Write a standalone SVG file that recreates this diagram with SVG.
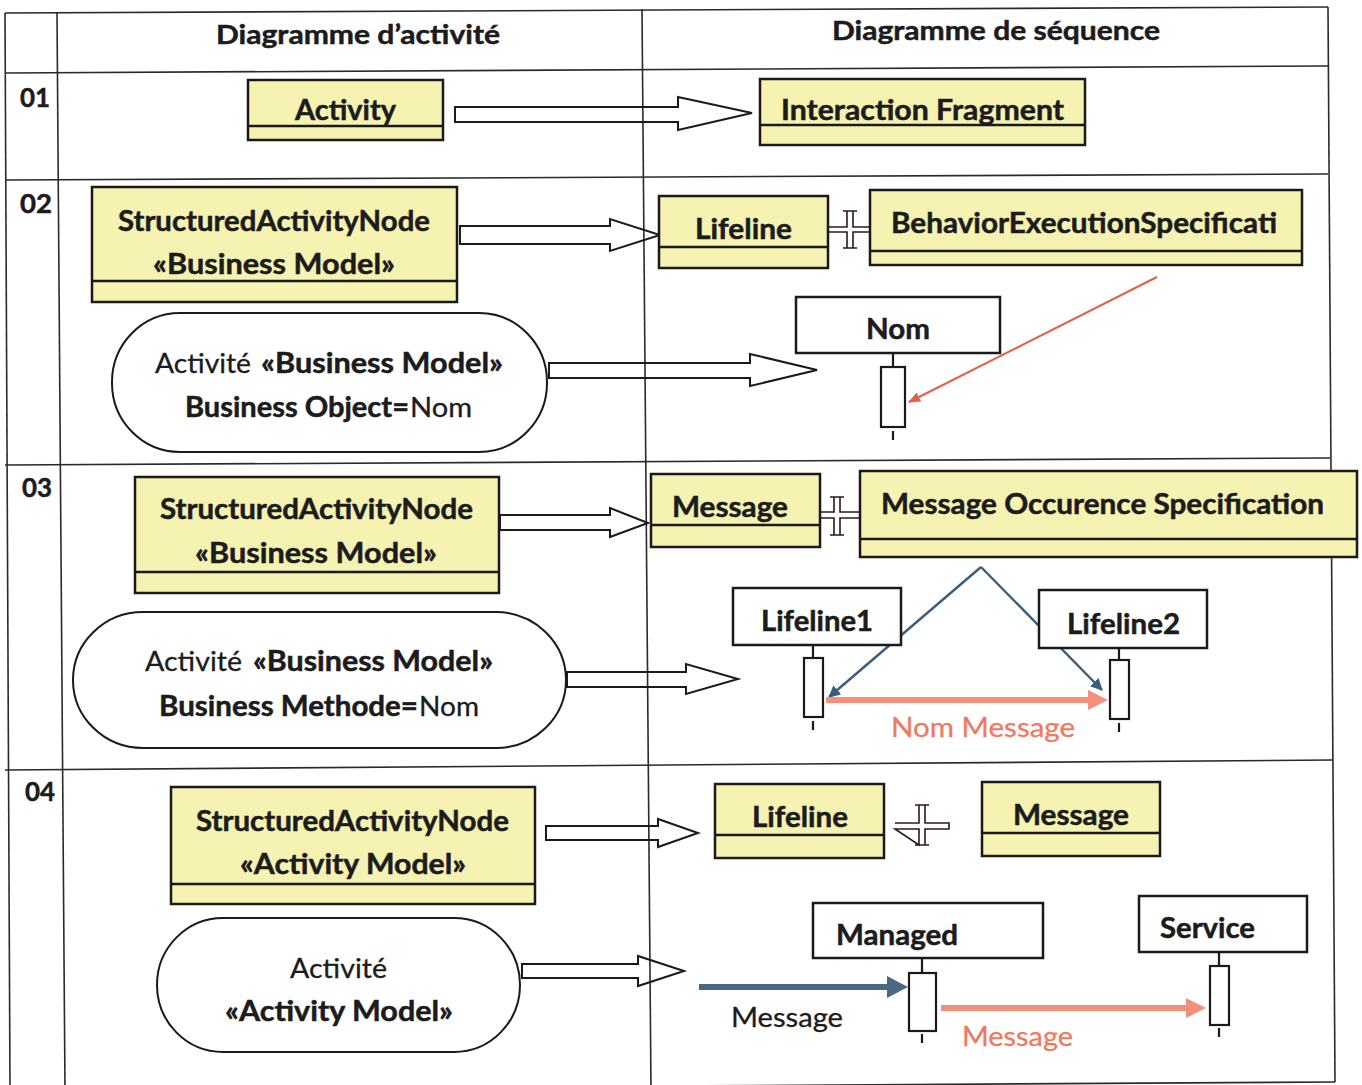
<svg xmlns="http://www.w3.org/2000/svg" width="1362" height="1085" viewBox="0 0 1362 1085">
  <style>
    .grid { stroke:#2a2a2a; stroke-width:1.6; fill:none; }
    .b { font-family:Lato, "Open Sans", "DejaVu Sans", sans-serif; font-weight:bold; font-size:28px; fill:#1c1c1c; stroke:#1c1c1c; stroke-width:0.5; }
    .r { font-family:Lato, "Open Sans", "DejaVu Sans", sans-serif; font-weight:normal; font-size:27px; fill:#1c1c1c; stroke:#1c1c1c; stroke-width:0.3; }
    .hd { font-size:27px; }
    .num { font-size:26px; }
    .ybox { fill:#f6f2b2; stroke:#1a1a1a; stroke-width:2.5; }
    .wbox { fill:#ffffff; stroke:#1a1a1a; stroke-width:2.5; }
    .div { stroke:#1a1a1a; stroke-width:2.5; }
    .pill { fill:#ffffff; stroke:#1a1a1a; stroke-width:2; }
    .harrow { fill:none; stroke:#1a1a1a; stroke-width:2; stroke-linejoin:miter; }
    .cross { fill:none; stroke:#2a1a1a; stroke-width:1.6; }
    .life { stroke:#1a1a1a; stroke-width:2.2; fill:none; }
    .act { fill:#ffffff; stroke:#1a1a1a; stroke-width:2.2; }
    .blue { stroke:#3a5d7b; stroke-width:2.4; fill:none; }
    .bluethick { stroke:#4a6882; stroke-width:6; fill:none; }
    .red { stroke:#e0604a; stroke-width:2; fill:none; }
    .redthick { stroke:#f3907a; stroke-width:6; fill:none; }
    .redtxt { fill:#ee7a62; stroke:#ee7a62; stroke-width:0.3; }
  </style>
  <defs>
    <marker id="headBlue" markerWidth="12" markerHeight="12" refX="11" refY="6" orient="auto" markerUnits="userSpaceOnUse" viewBox="0 0 12 12">
      <path d="M0,0 L12,6 L0,12 z" fill="#3a5d7b"/>
    </marker>
    <marker id="headRed" markerWidth="12" markerHeight="10" refX="11" refY="5" orient="auto" markerUnits="userSpaceOnUse" viewBox="0 0 12 10">
      <path d="M0,0 L12,5 L0,10 z" fill="#e0604a"/>
    </marker>
  </defs>

  <rect width="1362" height="1085" fill="#ffffff"/>

  <!-- table grid -->
  <g id="table">
    <line class="grid" x1="5" y1="13" x2="1328" y2="7"/>
    <line class="grid" x1="5" y1="73" x2="1328" y2="66"/>
    <line class="grid" x1="5" y1="180" x2="1328" y2="174"/>
    <line class="grid" x1="5" y1="465" x2="1330" y2="458"/>
    <line class="grid" x1="5" y1="770" x2="1333" y2="760"/>
    <line class="grid" x1="5" y1="1090" x2="1335" y2="1082"/>
    <line class="grid" x1="5" y1="13" x2="10" y2="1090"/>
    <line class="grid" x1="57" y1="13" x2="65" y2="1090"/>
    <line class="grid" x1="642" y1="9" x2="651" y2="1090"/>
    <line class="grid" x1="1328" y1="7" x2="1335" y2="1082"/>
    <text class="b hd" x="216" y="44" textLength="284" lengthAdjust="spacingAndGlyphs">Diagramme d’activité</text>
    <text class="b hd" x="832" y="40" textLength="328" lengthAdjust="spacingAndGlyphs">Diagramme de séquence</text>
    <text class="b num" x="20" y="107" textLength="30" lengthAdjust="spacingAndGlyphs">01</text>
    <text class="b num" x="20" y="213" textLength="32" lengthAdjust="spacingAndGlyphs">02</text>
    <text class="b num" x="22" y="497" textLength="30" lengthAdjust="spacingAndGlyphs">03</text>
    <text class="b num" x="25" y="801" textLength="30" lengthAdjust="spacingAndGlyphs">04</text>
  </g>

  <!-- connectors -->
  <g id="connectors">
    <!-- hollow block arrows between the two columns -->
    <polygon class="harrow" points="455,107 678,107 678,97 752,113 678,130 678,122 455,122"/>
    <polygon class="harrow" points="460,226 610,226 610,219 660,235 610,251 610,244 460,244"/>
    <polygon class="harrow" points="549,363 750,363 750,354 817,370 750,386 750,378 549,378"/>
    <polygon class="harrow" points="500,515 610,515 610,508 648,523 610,537 610,530 500,530"/>
    <polygon class="harrow" points="567,672 686,672 686,664 738,679 686,694 686,687 567,687"/>
    <polygon class="harrow" points="546,826 658,826 658,819 698,833 658,847 658,840 546,840"/>
    <polygon class="harrow" points="522,964 638,964 638,956 684,971 638,986 638,978 522,978"/>

    <!-- composition crosses -->
    <path class="cross" d="M828,227 H847 V211 M853,211 V227 H870 M870,232 H853 V248 M847,248 V232 H828 M843,211 H857 M843,248 H857"/>
    <path class="cross" d="M820,512 H834 V497 M840,497 V512 H860 M860,518 H840 V535 M834,535 V518 H820 M830,497 H844 M830,535 H844"/>
    <path class="cross" d="M895,823 H919 V805 M925,805 V823 H949 V829 H925 V845 M919,845 V829 H895 Z M915,805 H929 M915,845 H929"/>

    <!-- row 02: execution specification pointer -->
    <line class="red" x1="1157" y1="277" x2="909" y2="402" marker-end="url(#headRed)"/>

    <!-- row 03: occurrence specification pointers -->
    <line class="blue" x1="981" y1="567" x2="829" y2="697" marker-end="url(#headBlue)"/>
    <line class="blue" x1="981" y1="567" x2="1102" y2="690" marker-end="url(#headBlue)"/>
  </g>

  <!-- row 01 -->
  <g id="activity">
    <rect class="ybox" x="248" y="80" width="195" height="60"/>
    <line class="div" x1="248" y1="126" x2="443" y2="126"/>
    <text class="b" x="295" y="120" textLength="101" lengthAdjust="spacingAndGlyphs">Activity</text>
  </g>
  <g id="interaction-fragment">
    <rect class="ybox" x="760" y="79" width="325" height="66"/>
    <line class="div" x1="760" y1="125" x2="1085" y2="125"/>
    <text class="b" x="781" y="120" textLength="283" lengthAdjust="spacingAndGlyphs">Interaction Fragment</text>
  </g>

  <!-- row 02 -->
  <g id="san-business-02">
    <rect class="ybox" x="92" y="187" width="365" height="115"/>
    <line class="div" x1="92" y1="281" x2="457" y2="281"/>
    <text class="b" x="118" y="231" textLength="312" lengthAdjust="spacingAndGlyphs">StructuredActivityNode</text>
    <text class="b" x="153" y="274" textLength="242" lengthAdjust="spacingAndGlyphs">«Business Model»</text>
  </g>
  <g id="activite-business-object">
    <rect class="pill" x="112" y="313" width="435" height="139" rx="68" ry="69"/>
    <text class="r" x="155" y="373" textLength="96" lengthAdjust="spacingAndGlyphs">Activité</text>
    <text class="b" x="261" y="373" textLength="242" lengthAdjust="spacingAndGlyphs">«Business Model»</text>
    <text class="b" x="185" y="417" textLength="224" lengthAdjust="spacingAndGlyphs">Business Object=</text>
    <text class="r" x="410" y="417" textLength="62" lengthAdjust="spacingAndGlyphs">Nom</text>
  </g>
  <g id="lifeline-02">
    <rect class="ybox" x="659" y="196" width="169" height="72"/>
    <line class="div" x1="659" y1="247" x2="828" y2="247"/>
    <text class="b" x="695" y="239" textLength="97" lengthAdjust="spacingAndGlyphs">Lifeline</text>
  </g>
  <g id="behavior-execution">
    <rect class="ybox" x="870" y="190" width="432" height="75"/>
    <line class="div" x1="870" y1="251" x2="1302" y2="251"/>
    <text class="b" x="891" y="233" textLength="386" lengthAdjust="spacingAndGlyphs">BehaviorExecutionSpecificati</text>
  </g>
  <g id="nom-lifeline">
    <rect class="wbox" x="796" y="297" width="204" height="56"/>
    <text class="b" x="866" y="339" textLength="64" lengthAdjust="spacingAndGlyphs">Nom</text>
    <line class="life" x1="893" y1="353" x2="893" y2="367"/>
    <rect class="act" x="881" y="367" width="24" height="60"/>
    <line class="life" x1="893" y1="431" x2="893" y2="440"/>
  </g>

  <!-- row 03 -->
  <g id="san-business-03">
    <rect class="ybox" x="135" y="477" width="364" height="116"/>
    <line class="div" x1="135" y1="572" x2="499" y2="572"/>
    <text class="b" x="160" y="519" textLength="313" lengthAdjust="spacingAndGlyphs">StructuredActivityNode</text>
    <text class="b" x="195" y="563" textLength="242" lengthAdjust="spacingAndGlyphs">«Business Model»</text>
  </g>
  <g id="activite-business-methode">
    <rect class="pill" x="73" y="612" width="493" height="136" rx="70" ry="68"/>
    <text class="r" x="145" y="671" textLength="97" lengthAdjust="spacingAndGlyphs">Activité</text>
    <text class="b" x="253" y="671" textLength="240" lengthAdjust="spacingAndGlyphs">«Business Model»</text>
    <text class="b" x="159" y="716" textLength="259" lengthAdjust="spacingAndGlyphs">Business Methode=</text>
    <text class="r" x="419" y="716" textLength="60" lengthAdjust="spacingAndGlyphs">Nom</text>
  </g>
  <g id="message-03">
    <rect class="ybox" x="651" y="474" width="169" height="73"/>
    <line class="div" x1="651" y1="525" x2="820" y2="525"/>
    <text class="b" x="672" y="517" textLength="116" lengthAdjust="spacingAndGlyphs">Message</text>
  </g>
  <g id="message-occurrence">
    <rect class="ybox" x="860" y="471" width="497" height="86"/>
    <line class="div" x1="860" y1="539" x2="1357" y2="539"/>
    <text class="b" x="881" y="514" textLength="443" lengthAdjust="spacingAndGlyphs">Message Occurence Specification</text>
  </g>
  <g id="lifeline1">
    <rect class="wbox" x="733" y="588" width="168" height="57"/>
    <text class="b" x="761" y="631" textLength="112" lengthAdjust="spacingAndGlyphs">Lifeline1</text>
    <line class="life" x1="813" y1="645" x2="813" y2="658"/>
    <rect class="act" x="804" y="658" width="19" height="59"/>
    <line class="life" x1="813" y1="721" x2="813" y2="730"/>
  </g>
  <g id="lifeline2">
    <rect class="wbox" x="1039" y="590" width="168" height="58"/>
    <text class="b" x="1067" y="634" textLength="113" lengthAdjust="spacingAndGlyphs">Lifeline2</text>
    <line class="life" x1="1119" y1="648" x2="1119" y2="660"/>
    <rect class="act" x="1110" y="660" width="19" height="59"/>
    <line class="life" x1="1119" y1="723" x2="1119" y2="732"/>
  </g>
  <g id="nom-message">
    <line class="redthick" x1="826" y1="700" x2="1092" y2="700"/>
    <path d="M1088,690 L1108,700 L1088,710 z" fill="#f3907a"/>
    <text class="r redtxt" x="891" y="737" textLength="184" lengthAdjust="spacingAndGlyphs">Nom Message</text>
  </g>

  <!-- row 04 -->
  <g id="san-activity-04">
    <rect class="ybox" x="171" y="787" width="364" height="117"/>
    <line class="div" x1="171" y1="884" x2="535" y2="884"/>
    <text class="b" x="196" y="831" textLength="313" lengthAdjust="spacingAndGlyphs">StructuredActivityNode</text>
    <text class="b" x="240" y="874" textLength="226" lengthAdjust="spacingAndGlyphs">«Activity Model»</text>
  </g>
  <g id="activite-activity-model">
    <rect class="pill" x="157" y="918" width="363" height="134" rx="66" ry="67"/>
    <text class="r" x="290" y="978" textLength="97" lengthAdjust="spacingAndGlyphs">Activité</text>
    <text class="b" x="225" y="1021" textLength="228" lengthAdjust="spacingAndGlyphs">«Activity Model»</text>
  </g>
  <g id="lifeline-04">
    <rect class="ybox" x="715" y="784" width="169" height="74"/>
    <line class="div" x1="715" y1="835" x2="884" y2="835"/>
    <text class="b" x="752" y="827" textLength="96" lengthAdjust="spacingAndGlyphs">Lifeline</text>
  </g>
  <g id="message-04">
    <rect class="ybox" x="982" y="782" width="178" height="74"/>
    <line class="div" x1="982" y1="833" x2="1160" y2="833"/>
    <text class="b" x="1013" y="825" textLength="116" lengthAdjust="spacingAndGlyphs">Message</text>
  </g>
  <g id="managed">
    <rect class="wbox" x="813" y="903" width="230" height="55"/>
    <text class="b" x="836" y="945" textLength="122" lengthAdjust="spacingAndGlyphs">Managed</text>
    <line class="life" x1="922" y1="958" x2="922" y2="973"/>
    <rect class="act" x="909" y="973" width="27" height="58"/>
    <line class="life" x1="922" y1="1034" x2="922" y2="1043"/>
  </g>
  <g id="service">
    <rect class="wbox" x="1139" y="896" width="168" height="56"/>
    <text class="b" x="1160" y="938" textLength="95" lengthAdjust="spacingAndGlyphs">Service</text>
    <line class="life" x1="1219" y1="952" x2="1219" y2="966"/>
    <rect class="act" x="1210" y="966" width="19" height="59"/>
    <line class="life" x1="1219" y1="1028" x2="1219" y2="1037"/>
  </g>
  <g id="incoming-message">
    <line class="bluethick" x1="699" y1="987" x2="891" y2="987"/>
    <path d="M887,976 L908,987 L887,998 z" fill="#4a6882"/>
    <text class="r" x="731" y="1027" textLength="112" lengthAdjust="spacingAndGlyphs">Message</text>
  </g>
  <g id="outgoing-message">
    <line class="redthick" x1="941" y1="1008" x2="1190" y2="1008"/>
    <path d="M1186,998 L1206,1008 L1186,1018 z" fill="#f3907a"/>
    <text class="r redtxt" x="962" y="1046" textLength="111" lengthAdjust="spacingAndGlyphs">Message</text>
  </g>
</svg>
